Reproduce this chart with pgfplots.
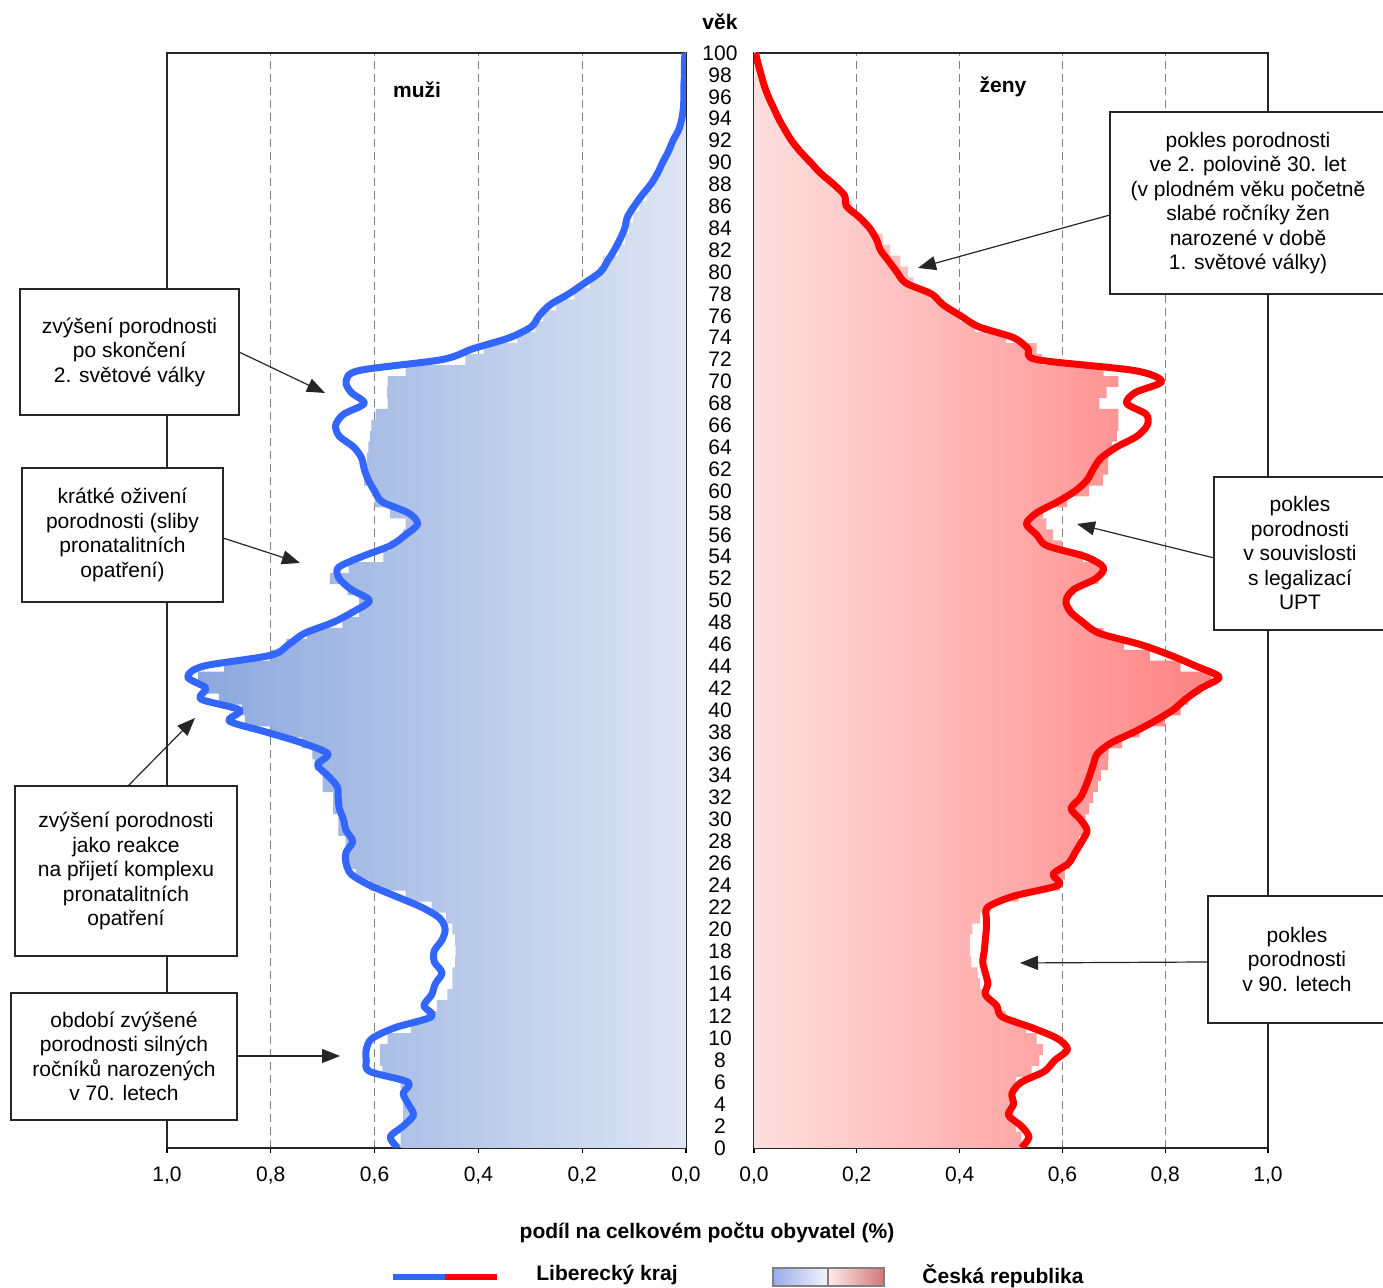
\documentclass[border=0pt]{standalone}
\usepackage{fontspec}
\setmainfont{Liberation Sans}
\usepackage{pgfplots}
\usepackage{pgfplotstable}
\pgfplotsset{compat=1.18}
\usetikzlibrary{arrows.meta}

\definecolor{lkblue}{HTML}{3366FF}
\definecolor{lkred}{HTML}{FF0000}
\definecolor{mdark}{HTML}{8CA8DE}
\definecolor{mlight}{HTML}{DEE5F3}
\definecolor{fdark}{HTML}{FF8282}
\definecolor{flight}{HTML}{FFDEDE}
\definecolor{gridgray}{HTML}{808080}

\newcommand\cf{\fontsize{10.5}{12.25}\selectfont}

% vek, muzi LK, muzi CR, zeny LK, zeny CR (podil v %)
\pgfplotstableread{
age ml mc fl fc
100 0.002 0.001 0.003 0.003
99 0.003 0.002 0.008 0.007
98 0.003 0.003 0.014 0.013
97 0.004 0.003 0.020 0.019
96 0.004 0.004 0.028 0.027
95 0.005 0.005 0.038 0.036
94 0.008 0.007 0.048 0.046
93 0.014 0.012 0.060 0.058
92 0.025 0.021 0.073 0.072
91 0.034 0.030 0.090 0.088
90 0.045 0.040 0.110 0.106
89 0.055 0.050 0.130 0.128
88 0.068 0.062 0.155 0.150
87 0.085 0.076 0.176 0.172
86 0.100 0.090 0.180 0.190
85 0.113 0.102 0.205 0.205
84 0.118 0.110 0.225 0.225
83 0.127 0.118 0.238 0.250
82 0.138 0.130 0.246 0.265
81 0.151 0.160 0.262 0.285
80 0.165 0.170 0.278 0.300
79 0.195 0.185 0.295 0.310
78 0.226 0.215 0.345 0.340
77 0.262 0.250 0.368 0.370
76 0.283 0.275 0.402 0.400
75 0.298 0.290 0.437 0.430
74 0.340 0.325 0.505 0.490
73 0.410 0.390 0.533 0.550
72 0.470 0.425 0.550 0.560
71 0.630 0.540 0.740 0.680
70 0.655 0.575 0.793 0.709
69 0.645 0.576 0.742 0.686
68 0.620 0.575 0.725 0.672
67 0.660 0.598 0.763 0.709
66 0.675 0.606 0.765 0.709
65 0.668 0.609 0.745 0.706
64 0.640 0.612 0.705 0.696
63 0.625 0.615 0.675 0.689
62 0.620 0.620 0.660 0.689
61 0.612 0.620 0.648 0.679
60 0.600 0.605 0.625 0.652
59 0.585 0.600 0.590 0.609
58 0.535 0.570 0.550 0.562
57 0.517 0.540 0.530 0.569
56 0.540 0.545 0.550 0.582
55 0.570 0.570 0.570 0.600
54 0.625 0.583 0.645 0.640
53 0.670 0.650 0.680 0.680
52 0.668 0.686 0.665 0.670
51 0.645 0.652 0.622 0.625
50 0.610 0.630 0.607 0.610
49 0.640 0.630 0.615 0.620
48 0.680 0.662 0.640 0.640
47 0.735 0.730 0.672 0.680
46 0.765 0.770 0.750 0.720
45 0.800 0.800 0.810 0.770
44 0.930 0.890 0.860 0.830
43 0.960 0.940 0.905 0.890
42 0.925 0.930 0.870 0.870
41 0.935 0.900 0.840 0.845
40 0.860 0.855 0.815 0.830
39 0.880 0.850 0.780 0.800
38 0.810 0.800 0.740 0.750
37 0.740 0.740 0.695 0.716
36 0.690 0.720 0.668 0.690
35 0.710 0.715 0.660 0.689
34 0.690 0.700 0.653 0.675
33 0.672 0.700 0.645 0.669
32 0.670 0.680 0.635 0.660
31 0.668 0.680 0.617 0.652
30 0.660 0.670 0.635 0.645
29 0.655 0.670 0.648 0.640
28 0.642 0.656 0.638 0.632
27 0.655 0.656 0.625 0.625
26 0.655 0.650 0.612 0.615
25 0.645 0.636 0.582 0.605
24 0.610 0.610 0.592 0.595
23 0.560 0.540 0.505 0.515
22 0.510 0.490 0.455 0.460
21 0.475 0.462 0.452 0.440
20 0.464 0.450 0.452 0.425
19 0.470 0.445 0.450 0.420
18 0.485 0.444 0.448 0.420
17 0.485 0.445 0.445 0.423
16 0.470 0.450 0.450 0.435
15 0.483 0.450 0.455 0.440
14 0.490 0.460 0.450 0.450
13 0.505 0.480 0.472 0.470
12 0.490 0.500 0.482 0.490
11 0.560 0.530 0.540 0.530
10 0.605 0.575 0.590 0.550
9 0.616 0.590 0.610 0.562
8 0.616 0.590 0.585 0.555
7 0.610 0.585 0.565 0.540
6 0.535 0.550 0.520 0.510
5 0.545 0.545 0.502 0.505
4 0.535 0.545 0.505 0.505
3 0.525 0.545 0.495 0.505
2 0.545 0.545 0.520 0.510
1 0.570 0.550 0.535 0.520
0 0.555 0.550 0.520 0.520
}\data

\pgfplotsset{
  pyr/.style={
    scale only axis, anchor=south west,
    height=547.5pt,
    xmin=0, xmax=1, ymin=0, ymax=100,
    enlargelimits=false,
    ytick=\empty,
    xtick={0,0.2,0.4,0.6,0.8,1},
    xtick pos=bottom, tick align=outside,
    major tick length=2.5pt,
    tick style={black, line width=0.6pt},
    axis line style={black!85, line width=0.8pt},
    xmajorgrids,
    grid style={gridgray, line width=0.5pt, dash pattern=on 4pt off 2.5pt},
    x tick label style={font=\cf, yshift=-3.5pt,
      /pgf/number format/assume math mode=true,
      /pgf/number format/fixed,
      /pgf/number format/fixed zerofill,
      /pgf/number format/precision=1,
      /pgf/number format/use comma},
  }
}

\begin{document}
\begin{tikzpicture}[font=\cf]
\useasboundingbox (0pt,0pt) rectangle (691.5pt,644pt);

% muzi
\begin{axis}[pyr, at={(83.5pt,70pt)}, width=259.5pt, x dir=reverse]
\addplot[xbar, bar width=1, draw=none, left color=mdark, right color=mlight]
  table[x=mc, y=age] {\data};
\addplot[lkblue, line width=3.5pt, smooth, line join=round, no markers]
  table[x=ml, y=age] {\data};
\end{axis}

% zeny
\begin{axis}[pyr, at={(377pt,70pt)}, width=257pt]
\addplot[xbar, bar width=1, draw=none, left color=flight, right color=fdark]
  table[x=fc, y=age] {\data};
\addplot[lkred, line width=3.5pt, smooth, line join=round, no markers]
  table[x=fl, y=age] {\data};
\end{axis}

\begin{scope}[x=0.5pt, y=0.5pt]
% popisky veku
\node[font=\cf\bfseries] at (720,1266) {věk};
\foreach \a in {0,2,...,100} {
  \node[inner sep=0pt] at (720,{140+\a*10.95}) {\a};
}
\node[font=\cf\bfseries] at (417,1198) {muži};
\node[font=\cf\bfseries] at (1003,1201) {ženy};
\node[font=\cf\bfseries] at (707,55) {podíl na celkovém počtu obyvatel (\%)};

% legenda
\draw[lkblue, line width=3pt] (393,11) -- (445,11);
\draw[lkred, line width=3pt] (445,11) -- (497,11);
\node[font=\cf\bfseries] at (607,13) {Liberecký kraj};
\shade[left color=mdark!80!blue!70, right color=mlight!40] (773,2) rectangle (828,20);
\shade[left color=flight!60, right color=fdark!80!black!90] (828,2) rectangle (884,20);
\draw[gray, line width=0.7pt] (773,2) rectangle (884,20);
\draw[gray, line width=0.7pt] (828,2) -- (828,20);
\node[font=\cf\bfseries] at (1003,12) {Česká republika};

% poznamky
\tikzset{box/.style={draw=black!85, line width=0.6pt, fill=white},
         txt/.style={align=center, inner sep=0pt},
         arr/.style={black!85, line width=0.6pt, -{Triangle[length=9pt,width=7pt]}}}

\draw[box] (20,873) rectangle (239,999);
\node[txt] at (129.5,936) {zvýšení porodnosti\\po skončení\\2. světové války};
\draw[arr] (239,936) -- (325,895);

\draw[box] (22,686) rectangle (223,820);
\node[txt] at (122.5,753) {krátké oživení\\porodnosti (sliby\\pronatalitních\\opatření)};
\draw[arr] (223,750) -- (300,725);

\draw[box] (15,332) rectangle (237,502);
\node[txt] at (126,417) {zvýšení porodnosti\\jako reakce\\na přijetí komplexu\\pronatalitních\\opatření};
\draw[arr] (128,502) -- (195,570);

\draw[box] (11,168) rectangle (237,295);
\node[txt] at (124,231.5) {období zvýšené\\porodnosti silných\\ročníků narozených\\v 70. letech};
\draw[arr] (237,232) -- (340,232);

\draw[box] (1110,994) rectangle (1390,1176);
\node[txt] at (1248,1085) {pokles porodnosti\\ve 2. polovině 30. let\\(v plodném věku početně\\slabé ročníky žen\\narozené v době\\1. světové války)};
\draw[arr] (1110,1073) -- (918,1020);

\draw[box] (1214,658) rectangle (1390,811);
\node[txt] at (1300,734.5) {pokles\\porodnosti\\v souvislosti\\s legalizací\\UPT};
\draw[arr] (1214,730) -- (1077,764);

\draw[box] (1208,265) rectangle (1390,392);
\node[txt] at (1297,328.5) {pokles\\porodnosti\\v 90. letech};
\draw[arr] (1208,326) -- (1020,325);
\end{scope}
\end{tikzpicture}
\end{document}
